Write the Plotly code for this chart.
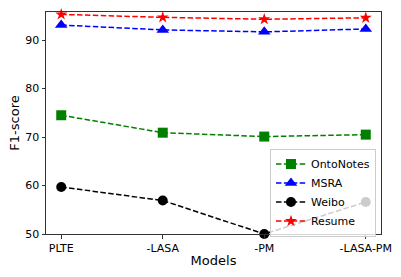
import plotly.graph_objects as go

models = ["PLTE", "-LASA", "-PM", "-LASA-PM"]
ontonotes = [74.5, 70.9, 70.1, 70.5]
msra = [93.1, 92.1, 91.7, 92.3]
weibo = [59.7, 56.9, 50.0, 56.6]
resume = [95.3, 94.7, 94.3, 94.6]

series = [
    ("OntoNotes", ontonotes, "#008000", "square", 10),
    ("MSRA", msra, "#0000ff", "triangle-up", 11),
    ("Weibo", weibo, "#000000", "circle", 10),
    ("Resume", resume, "#ff0000", "star", 9),
]

fig = go.Figure()
for name, vals, color, sym, sz in series:
    fig.add_trace(go.Scatter(
        x=list(range(len(models))), y=vals, name=name, mode="lines+markers",
        line=dict(color=color, width=1.5, dash="5.5px,2.4px"),
        marker=dict(color=color, symbol=sym, size=sz, line=dict(width=0)),
        cliponaxis=False,
    ))

fig.update_layout(
    width=401, height=277,
    margin=dict(l=46, r=20, t=12, b=43, autoexpand=False),
    paper_bgcolor="white", plot_bgcolor="white",
    font=dict(family="DejaVu Sans", size=11, color="black"),
    showlegend=True,
    legend=dict(
        x=0.985, y=0.385, xanchor="right", yanchor="top",
        bgcolor="rgba(255,255,255,0.8)", bordercolor="#cccccc", borderwidth=1,
        font=dict(size=11), tracegroupgap=0, itemwidth=30,
    ),
)
fig.update_xaxes(
    range=[-0.15, 3.15], tickmode="array", tickvals=list(range(len(models))),
    ticktext=models, showgrid=False, zeroline=False, automargin=False,
    showline=True, mirror=True, linecolor="#333333", linewidth=1,
    ticks="outside", ticklen=3.5, tickcolor="#333333",
    title=dict(text="Models", standoff=2),
)
fig.update_yaxes(
    range=[50, 95.8], tickvals=[50, 60, 70, 80, 90], showgrid=False, zeroline=False,
    automargin=False,
    showline=True, mirror=True, linecolor="#333333", linewidth=1,
    ticks="outside", ticklen=3.5, tickcolor="#333333",
    title=dict(text="F1-score", standoff=2),
)
fig.write_html(
    "out.html",
    config={"displayModeBar": False},
    post_script="document.body.style.margin='0px';document.body.style.padding='0px';",
)
